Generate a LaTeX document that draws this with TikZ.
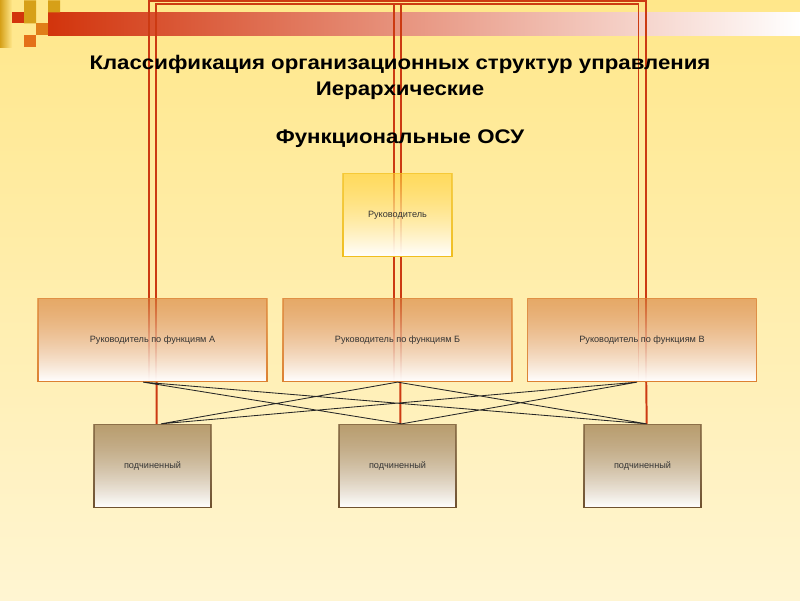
\documentclass[tikz,border=0pt]{standalone}
\usepackage{fontspec}
\setmainfont{Liberation Sans}
\newfontfamily\titlefont[FakeStretch=1.13]{Liberation Sans}
\usetikzlibrary{fadings}

\definecolor{bgtop}{RGB}{255,231,138}
\definecolor{bgbot}{RGB}{255,245,210}
\definecolor{linered}{RGB}{204,58,18}
\definecolor{gold}{RGB}{214,160,24}
\definecolor{orng}{RGB}{228,112,24}
\definecolor{barred}{RGB}{210,52,12}
\definecolor{chieftop}{RGB}{255,208,50}
\definecolor{chiefline}{RGB}{240,190,30}
\definecolor{functop}{RGB}{214,124,56}
\definecolor{funcline}{RGB}{220,128,48}
\definecolor{subtop}{RGB}{140,104,60}
\definecolor{subline}{RGB}{110,80,46}

\tikzfading[name=boxfade, top color=transparent!40, bottom color=transparent!0]

\pgfdeclarelayer{bg}
\pgfsetlayers{bg,main}

\begin{document}
\begin{tikzpicture}[x=0.025cm,y=-0.025cm,
    box/.style={rectangle,inner sep=0pt,minimum height=2.075cm,line width=0.9pt,
        font=\fontsize{6.5}{8}\selectfont,text=black!80,path fading=boxfade},
    chief/.style={box,minimum width=2.725cm,top color=chieftop,bottom color=white,draw=chiefline},
    func/.style={box,minimum width=5.725cm,top color=functop,bottom color=white,draw=funcline},
    sub/.style={box,minimum width=2.925cm,top color=subtop,bottom color=white,draw=subline},
    heading/.style={anchor=base,inner sep=0pt,font=\titlefont\bfseries\fontsize{14}{17}\selectfont},
    redline/.style={draw=linered,line width=1.4pt},
    link/.style={draw=black!85,line width=0.6pt}]

    % boxes
    \node (boss) at (397.5,214.5) [chief] {Руководитель};
    \node (fa) at (152.5,339.5) [func] {Руководитель по функциям А};
    \node (fb) at (397.5,339.5) [func] {Руководитель по функциям Б};
    \node (fc) at (642,339.5) [func] {Руководитель по функциям В};
    \node (sa) at (152.5,465.5) [sub] {подчиненный};
    \node (sb) at (397.5,465.5) [sub] {подчиненный};
    \node (sc) at (642.5,465.5) [sub] {подчиненный};

    % title
    \node (t1) at (400,69) [heading] {Классификация организационных структур управления};
    \node (t2) at (400,95) [heading] {Иерархические};
    \node (t3) at (400,143) [heading] {Функциональные ОСУ};

    \begin{pgfonlayer}{bg}
        \shade[top color=bgtop,bottom color=bgbot] (0,0) rectangle (800,600);
        % corner squares and bar
        \shade[left color=gold,right color=bgtop] (0,0) rectangle (12,47);
        \shade[left color=barred,right color=white] (48,12) rectangle (800,35);
        \fill[gold] (24,0) rectangle (36,12) (48,0) rectangle (60,12) (24,12) rectangle (36,23);
        \fill[barred] (12,12) rectangle (24,23);
        \fill[orng!70!gold] (36,23) rectangle (48,35);
        \fill[orng] (24,35) rectangle (36,47);
        % red frame lines
        \coordinate (top) at (397.5,0.5);
        \coordinate (top2) at (397.5,3.5);
        \draw[redline] ([xshift=-2.5pt]fa.south) |- (top) -| ([xshift=2.5pt]fc.south);
        \draw[redline] ([xshift=2.5pt]fa.south) |- (top2) -| ([xshift=-2.5pt]fc.south);
        \draw[redline] ([xshift=-2.5pt]fb.south) -- ([xshift=-2.5pt]top2);
        \draw[redline] ([xshift=2.5pt]fb.south) -- ([xshift=2.5pt]top2);
    \end{pgfonlayer}

    \draw[redline] ([xshift=3pt]fa.south) -- ([xshift=3pt]sa.north) ([xshift=2pt]fb.south) -- ([xshift=2pt]sb.north) ([xshift=3pt]fc.south) -- ([xshift=3pt]sc.north);
    \draw[link] ([xshift=-6.7pt]fa.south) -- ([xshift=3pt]sb.north) ([xshift=-6.7pt]fa.south) -- ([xshift=3pt]sc.north) (fb.south) -- ([xshift=6pt]sa.north) (fb.south) -- ([xshift=3pt]sc.north) ([xshift=-3.5pt]fc.south) -- ([xshift=6pt]sa.north) ([xshift=-3.5pt]fc.south) -- ([xshift=3pt]sb.north);
\end{tikzpicture}
\end{document}
